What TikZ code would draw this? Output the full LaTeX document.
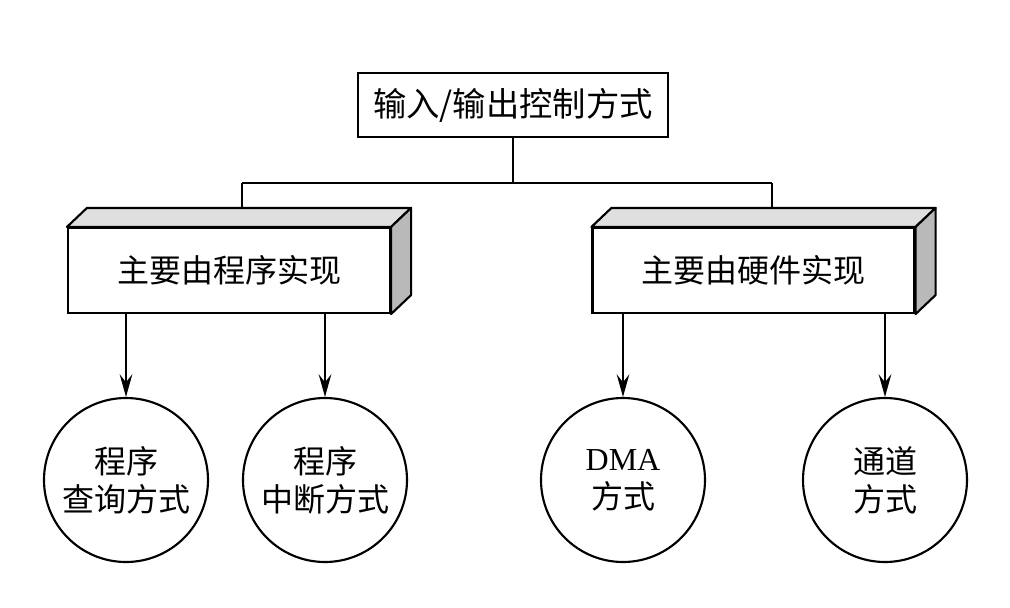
\documentclass[tikz,border=0pt]{standalone}
\usepackage{fontspec}
\setmainfont{Liberation Serif}
\newfontfamily\cjk{Noto Sans CJK SC}
\usetikzlibrary{arrows.meta}

\begin{document}
\begin{tikzpicture}[x=0.75pt,y=-0.75pt,line width=1.6pt,
  box/.style={draw,fill=white,minimum width=241.5pt,minimum height=63.75pt,
    inner sep=0pt,font=\cjk\fontsize{24}{28}\selectfont},
  way/.style={draw,circle,minimum size=123pt,inner sep=0pt,align=center,
    font=\fontsize{24}{28.5}\selectfont},
  >={Stealth[length=17pt,width=9.5pt,inset=6pt]}]
  \useasboundingbox (0,0) rectangle (1010,607);
  % root
  \node[draw,minimum width=232.5pt,minimum height=48pt,inner sep=0pt,
    font=\cjk\fontsize{25}{30}\selectfont] (io) at (513,105) {输入/输出控制方式};
  % the two groups
  \node[box] (sw) at (229,270.5) {主要由程序实现};
  \node[box] (hw) at (753.5,270.5) {主要由硬件实现};
  \foreach \b in {sw,hw} {
    \filldraw[fill=gray!25,line join=round] (\b.north west) -- ++(20,-19)
      -- ([shift={(20,-19)}]\b.north east) -- (\b.north east) -- cycle;
    \filldraw[fill=gray!55,line join=round] (\b.north east) -- ++(20,-19)
      -- ([shift={(20,-19)}]\b.south east) -- (\b.south east) -- cycle;
  }
  % the four ways
  \node[way] (pq) at (126,480) {{\cjk 程序}\\{\cjk 查询方式}};
  \node[way] (zd) at (325,480) {{\cjk 程序}\\{\cjk 中断方式}};
  \node[way] (dma) at (623,480) {DMA\\{\cjk 方式}};
  \node[way] (td) at (885,480) {{\cjk 通道}\\{\cjk 方式}};
  % tree lines
  \coordinate (bus) at (513,183);
  \coordinate (busL) at (242,183);
  \coordinate (busR) at (772,183);
  \coordinate (swtop) at ([yshift=14.25pt]sw.north);
  \coordinate (hwtop) at ([yshift=14.25pt]hw.north);
  \draw (io.south) -- (bus);
  \draw (busL) -- (busR);
  \draw (busL) -- (busL |- swtop);
  \draw (busR) -- (busR |- hwtop);
  \draw[->] (sw.south -| pq.north) -- (pq.north);
  \draw[->] (sw.south -| zd.north) -- (zd.north);
  \draw[->] (hw.south -| dma.north) -- (dma.north);
  \draw[->] (hw.south -| td.north) -- (td.north);
\end{tikzpicture}
\end{document}
